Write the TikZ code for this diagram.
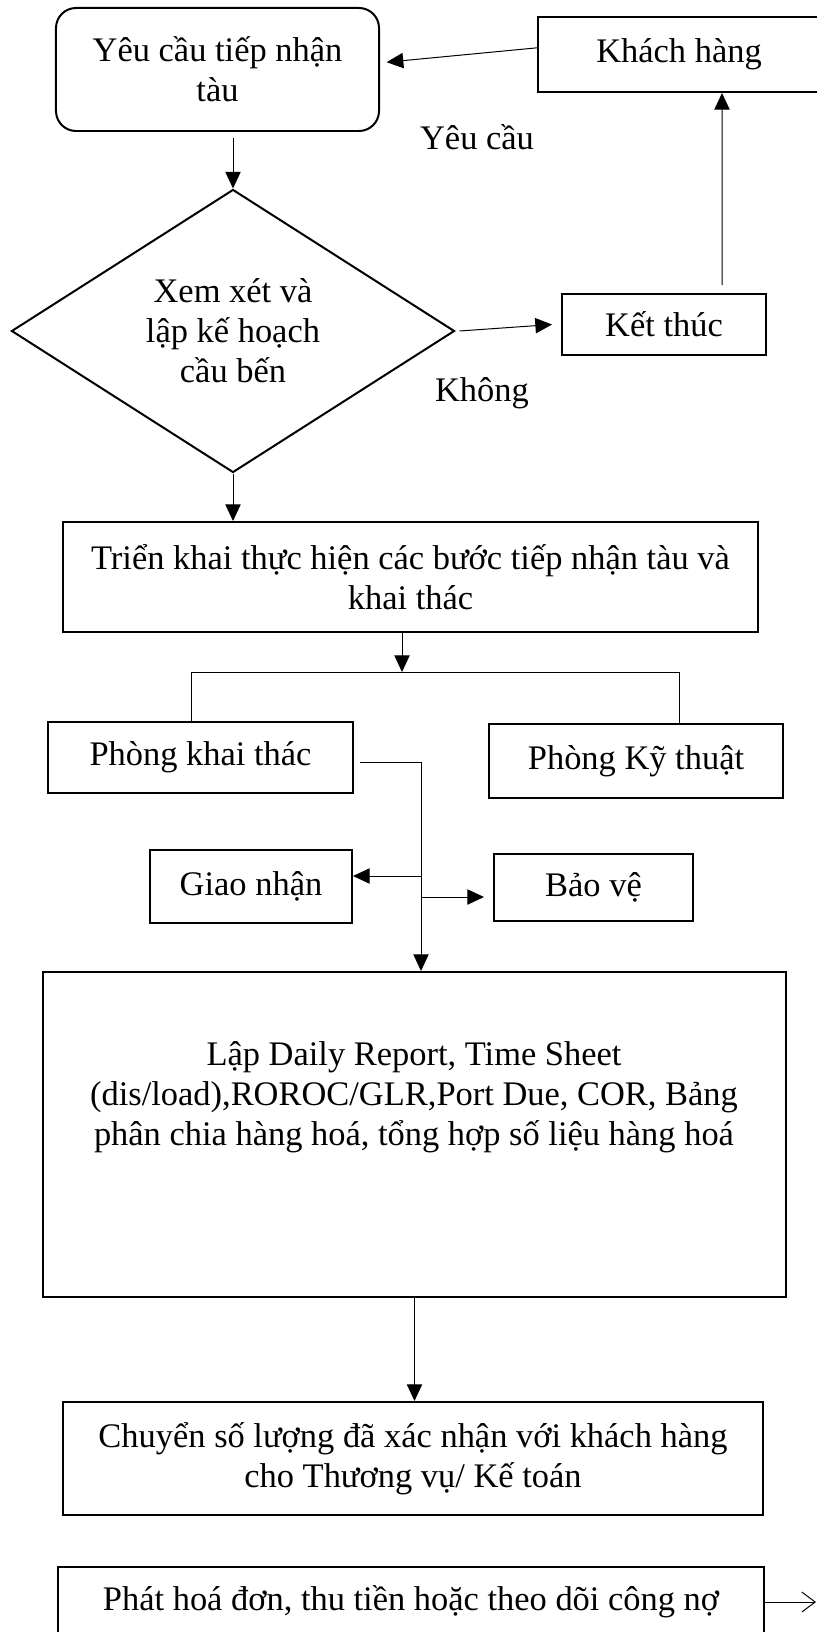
\documentclass[tikz,border=0pt]{standalone}
\usepackage{fontspec}
\setmainfont{Liberation Serif}
\usepackage{tikz}
\usetikzlibrary{arrows.meta, shapes.geometric}

\begin{document}
\begin{tikzpicture}[->,>={Triangle[length=0.5cm,width=0.46cm]},x=0.03cm,y=-0.03cm,
                    line width=0.85pt]
\tikzstyle{box}=[rectangle,draw=black,line width=1.7pt,inner sep=0pt,align=center]
\tikzstyle{lbl}=[inner sep=0pt,anchor=base]
\tikzset{font=\fontsize{29.4pt}{34.1pt}\selectfont}

\clip[-] (0,0) rectangle (817,1632);

        \node[box,rounded corners=0.6cm,minimum width=9.69cm,minimum height=3.69cm]   (req)  at (217.5,69.5) {Yêu cầu tiếp nhận\\tàu};
        \node[box,minimum width=8.46cm,minimum height=2.25cm]                         (cust) at (679,54.5)   {Khách hàng};
        \node[lbl]                                                                    (ask)  at (477,150)    {Yêu cầu};

        \node[box,diamond,aspect=1.565,minimum width=13.29cm,minimum height=8.49cm]   (plan) at (233,331)    {Xem xét và\\lập kế hoạch\\cầu bến};
        \node[box,minimum width=6.12cm,minimum height=1.83cm]                         (end)  at (664,324.5)  {Kết thúc};
        \node[lbl]                                                                    (no)   at (482,401)    {Không};

        \node[box,minimum width=20.85cm,minimum height=3.3cm]                         (exec) at (410.5,577)  {Triển khai thực hiện các bước tiếp nhận tàu và\\khai thác};

        \node[box,minimum width=9.15cm,minimum height=2.13cm]                         (ops)   at (200.5,757.5) {Phòng khai thác};
        \node[box,minimum width=8.82cm,minimum height=2.22cm]                         (tech)  at (636,761)     {Phòng Kỹ thuật};
        \node[box,minimum width=6.06cm,minimum height=2.19cm]                         (recv)  at (251,886.5)   {Giao nhận};
        \node[box,minimum width=5.97cm,minimum height=2.01cm]                         (guard) at (593.5,887.5) {Bảo vệ};

        \node[box,minimum width=22.29cm,minimum height=9.75cm]                        (daily)    at (414.5,1134.5) {};
        \node[align=center,inner sep=0pt]                                             (dailytxt) at (414,1097)     {Lập Daily Report, Time Sheet\\(dis/load),ROROC/GLR,Port Due, COR, Bảng\\phân chia hàng hoá, tổng hợp số liệu hàng hoá};

        \node[box,minimum width=21cm,minimum height=3.39cm]                           (transfer) at (413,1458.5) {Chuyển số lượng đã xác nhận với khách hàng\\cho Thương vụ/ Kế toán};
        \node[box,minimum width=21.18cm,minimum height=2.1cm]                         (invoice)  at (411,1602)   {Phát hoá đơn, thu tiền hoặc theo dõi công nợ};

        \coordinate (split) at (402,672);
        \coordinate (barL)  at (191,672);
        \coordinate (barR)  at (679,672);
        \coordinate (trunk) at (421,762);
        \coordinate (tapL)  at (421,876);
        \coordinate (tapR)  at (421,897);
        \coordinate (out)   at (816,1602);

        \path[->]
        ([yshift=0.2cm]cust.west)               edge[shorten >=0.2cm]  ([yshift=0.2cm]req.east)
        ([yshift=-0.18cm]req.south -| plan.north) edge                 (plan.north)
        ([xshift=0.12cm]plan.east)              edge                   ([xshift=-0.27cm]end.west)
        ([xshift=1.74cm,yshift=0.24cm]end.north) edge                  ([xshift=1.29cm]cust.south)
        (plan.south)                            edge                   (plan.south |- exec.north)
        (exec.south -| split)                   edge                   (split)
        (trunk)                                 edge                   (trunk |- daily.north)
        (tapL)                                  edge                   (recv.east |- tapL)
        (tapR)                                  edge[shorten >=0.27cm] (guard.west |- tapR)
        (daily.south)                           edge                   (daily.south |- transfer.north)
        ; %end path

        \draw[-] (ops.north -| barL) -- (barL) -- (barR) -- (tech.north -| barR);
        \draw[-,shorten <=0.18cm] (ops.east |- trunk) -- (trunk);
        \draw[-{Straight Barb[length=0.4cm,width=0.6cm]}] (invoice.east) -- (out);

\end{tikzpicture}
\end{document}
